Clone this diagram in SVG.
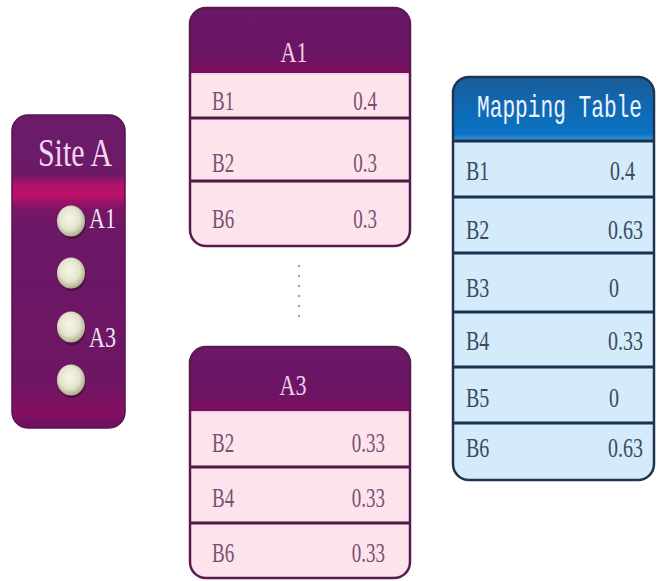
<svg xmlns="http://www.w3.org/2000/svg" width="657" height="581" viewBox="0 0 657 581">
  <defs>
    <linearGradient id="siteFill" gradientUnits="userSpaceOnUse" x1="0" y1="115" x2="0" y2="428">
      <stop offset="0" stop-color="#6a1c6c"/>
      <stop offset="0.19" stop-color="#6c1a66"/>
      <stop offset="0.225" stop-color="#b3126a"/>
      <stop offset="0.255" stop-color="#bc1068"/>
      <stop offset="0.30" stop-color="#7a1566"/>
      <stop offset="0.36" stop-color="#6b1866"/>
      <stop offset="0.85" stop-color="#6e1664"/>
      <stop offset="0.95" stop-color="#841062"/>
      <stop offset="1" stop-color="#6a1260"/>
    </linearGradient>
    <linearGradient id="pinkHead" x1="0" y1="0" x2="0" y2="1">
      <stop offset="0" stop-color="#6a1868"/>
      <stop offset="0.75" stop-color="#6c1564"/>
      <stop offset="0.9" stop-color="#7c1060"/>
      <stop offset="1" stop-color="#76105c"/>
    </linearGradient>
    <linearGradient id="blueHead" x1="0" y1="0" x2="0" y2="1">
      <stop offset="0" stop-color="#1a5c98"/>
      <stop offset="0.6" stop-color="#0d6cb8"/>
      <stop offset="0.9" stop-color="#0b72c2"/>
      <stop offset="1" stop-color="#3a92d2"/>
    </linearGradient>
    <radialGradient id="bead" cx="0.45" cy="0.42" r="0.6">
      <stop offset="0" stop-color="#f6f6ea"/>
      <stop offset="0.6" stop-color="#e4e4cc"/>
      <stop offset="1" stop-color="#a8a88a"/>
    </radialGradient>
    <clipPath id="clipA1"><rect x="190" y="8" width="220" height="238" rx="16"/></clipPath>
    <clipPath id="clipA3"><rect x="190" y="347" width="220" height="231" rx="16"/></clipPath>
    <clipPath id="clipMap"><rect x="453" y="77" width="201" height="403" rx="16"/></clipPath>
  </defs>
  <style>
    .serif { font-family: "Liberation Serif", "DejaVu Serif", serif; }
    .mono { font-family: "Liberation Mono", "DejaVu Sans Mono", monospace; }
    .siteTitle { font-size: 30px; fill: #f4d6ee; }
    .siteLbl { font-size: 22px; fill: #f2e6f2; }
    .pinkHeadTxt { font-size: 22px; fill: #f2cfe8; }
    .pinkCell { font-size: 19px; fill: #7a5072; }
    .blueCell { font-size: 20px; fill: #3c4a5a; }
    .blueHeadTxt { font-size: 21px; fill: #eef4ff; }
    .pinkBody { fill: #fde4ec; }
    .blueBody { fill: #d3ebfa; }
    .pinkRule { stroke: #4e1a44; stroke-width: 3; }
    .blueRule { stroke: #1c3350; stroke-width: 3; }
    .pinkFrame { fill: none; stroke: #5a1a4e; stroke-width: 2.5; }
    .blueFrame { fill: none; stroke: #1f3552; stroke-width: 2.5; }
    .dot { fill: #a9a9a9; }
  </style>

  <!-- Site A panel with its four nodes -->
  <g id="siteA">
    <rect x="12" y="115" width="113" height="313" rx="16" fill="url(#siteFill)" stroke="#5a1050" stroke-width="1.5"/>
    <text class="serif siteTitle" text-anchor="middle" transform="translate(75 166) scale(1 1.3)">Site A</text>
    <g id="nodeA1">
      <ellipse cx="72" cy="223" rx="14" ry="16" fill="#3a0a32" opacity="0.6"/>
      <ellipse cx="71" cy="221" rx="14" ry="15.5" fill="url(#bead)"/>
      <text class="serif siteLbl" transform="translate(89 228) scale(1 1.3)">A1</text>
    </g>
    <g id="nodeA2">
      <ellipse cx="72" cy="275" rx="14" ry="16" fill="#3a0a32" opacity="0.6"/>
      <ellipse cx="71" cy="273" rx="14" ry="15.5" fill="url(#bead)"/>
    </g>
    <g id="nodeA3">
      <ellipse cx="72" cy="329" rx="14" ry="16" fill="#3a0a32" opacity="0.6"/>
      <ellipse cx="71" cy="327" rx="14" ry="15.5" fill="url(#bead)"/>
      <text class="serif siteLbl" transform="translate(89 347) scale(1 1.3)">A3</text>
    </g>
    <g id="nodeA4">
      <ellipse cx="72" cy="382" rx="14" ry="16" fill="#3a0a32" opacity="0.6"/>
      <ellipse cx="71" cy="380" rx="14" ry="15.5" fill="url(#bead)"/>
    </g>
  </g>

  <!-- Table for node A1 -->
  <g id="tableA1">
    <g clip-path="url(#clipA1)">
      <rect x="190" y="8" width="220" height="238" class="pinkBody"/>
      <rect x="190" y="8" width="220" height="66" fill="url(#pinkHead)"/>
      <line x1="190" y1="74" x2="410" y2="74" stroke="#f6d0e6" stroke-width="2"/>
      <line x1="190" y1="118" x2="410" y2="118" class="pinkRule"/>
      <line x1="190" y1="181" x2="410" y2="181" class="pinkRule"/>
    </g>
    <rect x="190" y="8" width="220" height="238" rx="16" class="pinkFrame"/>
    <text class="serif pinkHeadTxt" text-anchor="middle" transform="translate(294 62) scale(1 1.3)">A1</text>
    <text class="serif pinkCell" transform="translate(212 110) scale(1 1.4)">B1</text>
    <text class="serif pinkCell" text-anchor="end" transform="translate(377 110) scale(1 1.4)">0.4</text>
    <text class="serif pinkCell" transform="translate(212 172) scale(1 1.4)">B2</text>
    <text class="serif pinkCell" text-anchor="end" transform="translate(377 172) scale(1 1.4)">0.3</text>
    <text class="serif pinkCell" transform="translate(212 228) scale(1 1.4)">B6</text>
    <text class="serif pinkCell" text-anchor="end" transform="translate(377 228) scale(1 1.4)">0.3</text>
  </g>

  <!-- Vertical ellipsis between the two node tables -->
  <g id="ellipsis">
    <circle cx="299" cy="266" r="1.3" class="dot"/>
    <circle cx="299" cy="276" r="1.3" class="dot"/>
    <circle cx="299" cy="286" r="1.3" class="dot"/>
    <circle cx="299" cy="296" r="1.3" class="dot"/>
    <circle cx="299" cy="306" r="1.3" class="dot"/>
    <circle cx="299" cy="316" r="1.3" class="dot"/>
  </g>

  <!-- Table for node A3 -->
  <g id="tableA3">
    <g clip-path="url(#clipA3)">
      <rect x="190" y="347" width="220" height="231" class="pinkBody"/>
      <rect x="190" y="347" width="220" height="65" fill="url(#pinkHead)"/>
      <line x1="190" y1="412" x2="410" y2="412" stroke="#f6d0e6" stroke-width="2"/>
      <line x1="190" y1="467" x2="410" y2="467" class="pinkRule"/>
      <line x1="190" y1="523" x2="410" y2="523" class="pinkRule"/>
    </g>
    <rect x="190" y="347" width="220" height="231" rx="16" class="pinkFrame"/>
    <text class="serif pinkHeadTxt" text-anchor="middle" transform="translate(293 395) scale(1 1.3)">A3</text>
    <text class="serif pinkCell" transform="translate(212 452) scale(1 1.4)">B2</text>
    <text class="serif pinkCell" text-anchor="end" transform="translate(385 452) scale(1 1.4)">0.33</text>
    <text class="serif pinkCell" transform="translate(212 507) scale(1 1.4)">B4</text>
    <text class="serif pinkCell" text-anchor="end" transform="translate(385 507) scale(1 1.4)">0.33</text>
    <text class="serif pinkCell" transform="translate(212 562) scale(1 1.4)">B6</text>
    <text class="serif pinkCell" text-anchor="end" transform="translate(385 562) scale(1 1.4)">0.33</text>
  </g>

  <!-- Merged mapping table -->
  <g id="mappingTable">
    <g clip-path="url(#clipMap)">
      <rect x="453" y="77" width="201" height="403" class="blueBody"/>
      <rect x="453" y="77" width="201" height="63" fill="url(#blueHead)"/>
      <line x1="453" y1="141" x2="654" y2="141" class="blueRule"/>
      <line x1="453" y1="197" x2="654" y2="197" class="blueRule"/>
      <line x1="453" y1="253" x2="654" y2="253" class="blueRule"/>
      <line x1="453" y1="312" x2="654" y2="312" class="blueRule"/>
      <line x1="453" y1="367" x2="654" y2="367" class="blueRule"/>
      <line x1="453" y1="423" x2="654" y2="423" class="blueRule"/>
    </g>
    <rect x="453" y="77" width="201" height="403" rx="16" class="blueFrame"/>
    <text class="mono blueHeadTxt" textLength="165" lengthAdjust="spacingAndGlyphs" transform="translate(477 117) scale(1 1.5)">Mapping Table</text>
    <text class="serif blueCell" transform="translate(466 180) scale(1 1.4)">B1</text>
    <text class="serif blueCell" transform="translate(610 180) scale(1 1.4)">0.4</text>
    <text class="serif blueCell" transform="translate(466 239) scale(1 1.4)">B2</text>
    <text class="serif blueCell" transform="translate(608 239) scale(1 1.4)">0.63</text>
    <text class="serif blueCell" transform="translate(466 297) scale(1 1.4)">B3</text>
    <text class="serif blueCell" transform="translate(609 297) scale(1 1.4)">0</text>
    <text class="serif blueCell" transform="translate(466 350) scale(1 1.4)">B4</text>
    <text class="serif blueCell" transform="translate(608 350) scale(1 1.4)">0.33</text>
    <text class="serif blueCell" transform="translate(466 407) scale(1 1.4)">B5</text>
    <text class="serif blueCell" transform="translate(609 407) scale(1 1.4)">0</text>
    <text class="serif blueCell" transform="translate(466 457) scale(1 1.4)">B6</text>
    <text class="serif blueCell" transform="translate(608 457) scale(1 1.4)">0.63</text>
  </g>

  <!-- No connectors are drawn between the nodes -->
  <g id="connectors"/>
</svg>
